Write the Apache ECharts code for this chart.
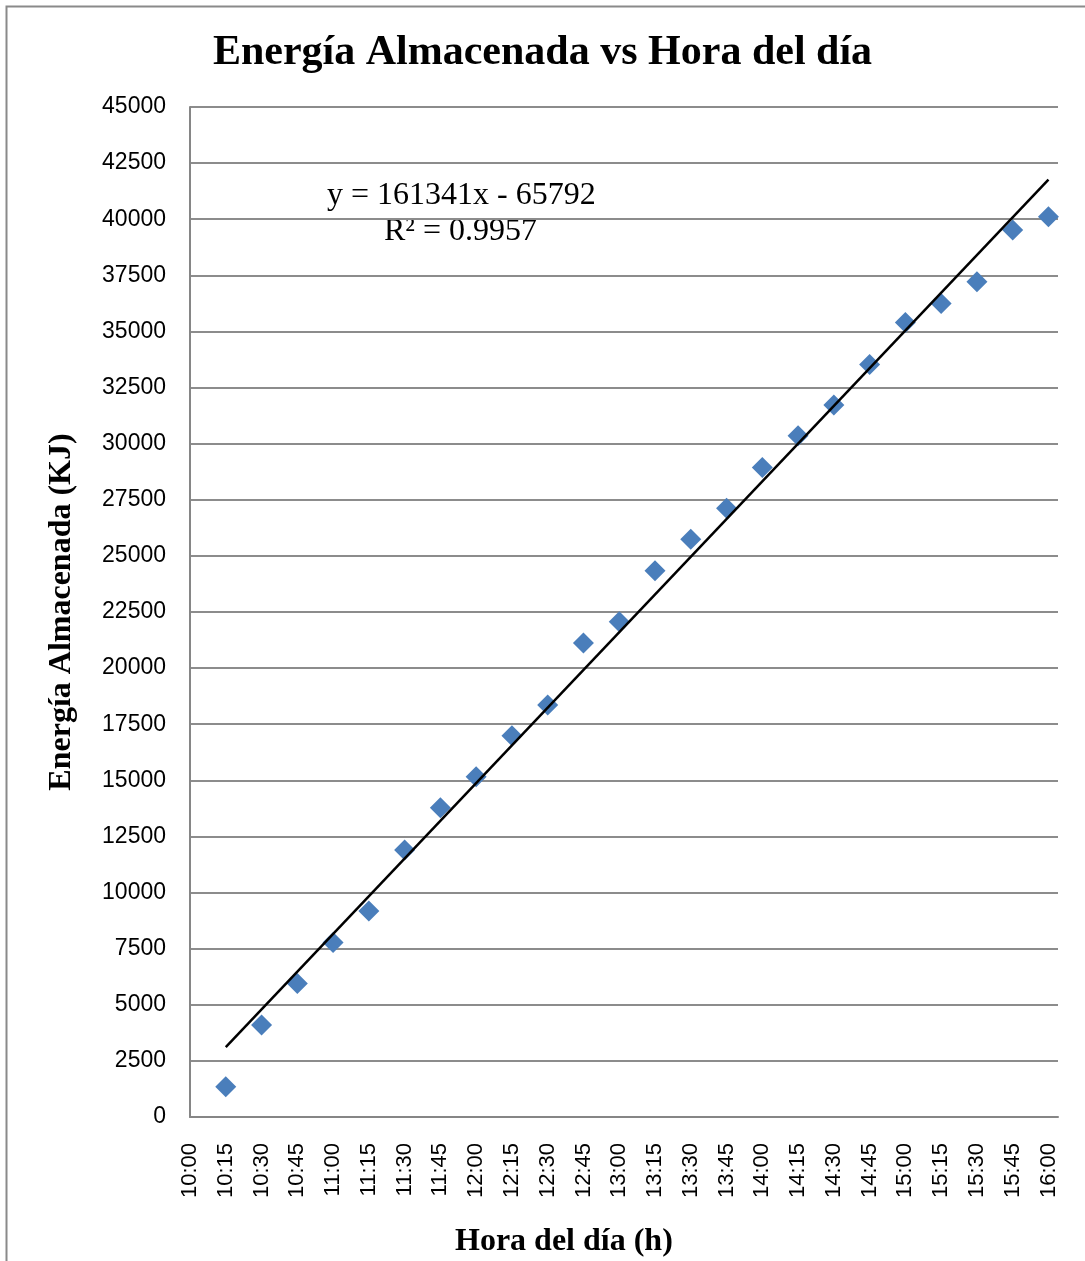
<!DOCTYPE html>
<html>
<head>
<meta charset="utf-8">
<script src="https://cdn.jsdelivr.net/npm/echarts@6/dist/echarts.min.js"></script>
<style>
html,body{margin:0;padding:0;background:#fff;}
#chart{width:1085px;height:1261px;}
</style>
</head>
<body>
<div id="chart"></div>
<script>
// Data
const times = ['10:15','10:30','10:45','11:00','11:15','11:30','11:45','12:00','12:15','12:30','12:45','13:00',
               '13:15','13:30','13:45','14:00','14:15','14:30','14:45','15:00','15:15','15:30','15:45','16:00'];
const energy = [1350, 4100, 5950, 7770, 9180, 11900, 13780, 15160, 16990, 18360, 21120, 22070,
                24340, 25740, 27120, 28940, 30350, 31720, 33530, 35400, 36250, 37210, 39520, 40110];
// Trendline as shown on chart: y = 161341x - 65792 (x = fraction of day)
const trendSlope = 161341;
const trendIntercept = -65792;
const equationText = 'y = 161341x - 65792';
const r2Text = 'R² = 0.9957';

function toMin(t){ const p = t.split(':'); return (+p[0])*60 + (+p[1]); }
function fmt(m){ const h = Math.floor(m/60), mm = m%60; return h + ':' + (mm<10?'0':'') + mm; }

const points = times.map((t,i)=>[toMin(t), energy[i]]);
const x0 = toMin(times[0]), x1 = toMin(times[times.length-1]);
const trend = [[x0, trendSlope*x0/1440 + trendIntercept],[x1, trendSlope*x1/1440 + trendIntercept]];

const chart = echarts.init(document.getElementById('chart'));
chart.setOption({
  backgroundColor:'#fff',
  animation:false,
  title:{
    text:'Energía Almacenada vs Hora del día',
    left:'center', top:27,
    textStyle:{fontFamily:'Liberation Serif', fontWeight:'bold', fontSize:42, color:'#000'}
  },
  graphic:[
    {type:'rect', left:4, top:4, shape:{width:1100, height:1300}, style:{fill:'none', stroke:'#8a8a8a', lineWidth:2}, silent:true},
    {type:'text', left:327, top:180, style:{text:equationText, font:'32px "Liberation Serif"', fill:'#000'}},
    {type:'text', left:384, top:216, style:{text:r2Text, font:'32px "Liberation Serif"', fill:'#000'}},
    {type:'text', left:455, top:1226, style:{text:'Hora del día (h)', font:'bold 32px "Liberation Serif"', fill:'#000'}}
  ],
  grid:{left:190, top:107, right:27, bottom:144, containLabel:false},
  xAxis:{
    type:'value', min:600, max:964, interval:15,
    axisLine:{show:true, lineStyle:{color:'#868686', width:2}},
    axisTick:{show:false},
    splitLine:{show:false},
    axisLabel:{
      rotate:90, margin:26, fontFamily:'Liberation Sans', fontSize:22, color:'#000',
      formatter:function(v){ return (v%15===0) ? fmt(v) : ''; }
    }
  },
  yAxis:{
    type:'value', min:0, max:45000, interval:2500,
    name:'Energía Almacenada (KJ)', nameLocation:'middle', nameGap:112,
    nameTextStyle:{fontFamily:'Liberation Serif', fontWeight:'bold', fontSize:32, color:'#000'},
    axisLine:{show:true, lineStyle:{color:'#868686', width:2}},
    axisTick:{show:false},
    splitLine:{show:true, lineStyle:{color:'#8c8c8c', width:2}},
    axisLabel:{margin:24, fontFamily:'Liberation Sans', fontSize:23, color:'#000',
      formatter:function(v){ return String(v); }}
  },
  series:[
    {
      type:'line', data:trend, symbol:'none', silent:true,
      lineStyle:{color:'#000', width:2.5}, z:3
    },
    {
      type:'scatter', data:points, symbol:'diamond', symbolSize:[21,21],
      itemStyle:{color:'#4A7EBB', opacity:1}, z:2
    }
  ]
});
</script>
</body>
</html>
